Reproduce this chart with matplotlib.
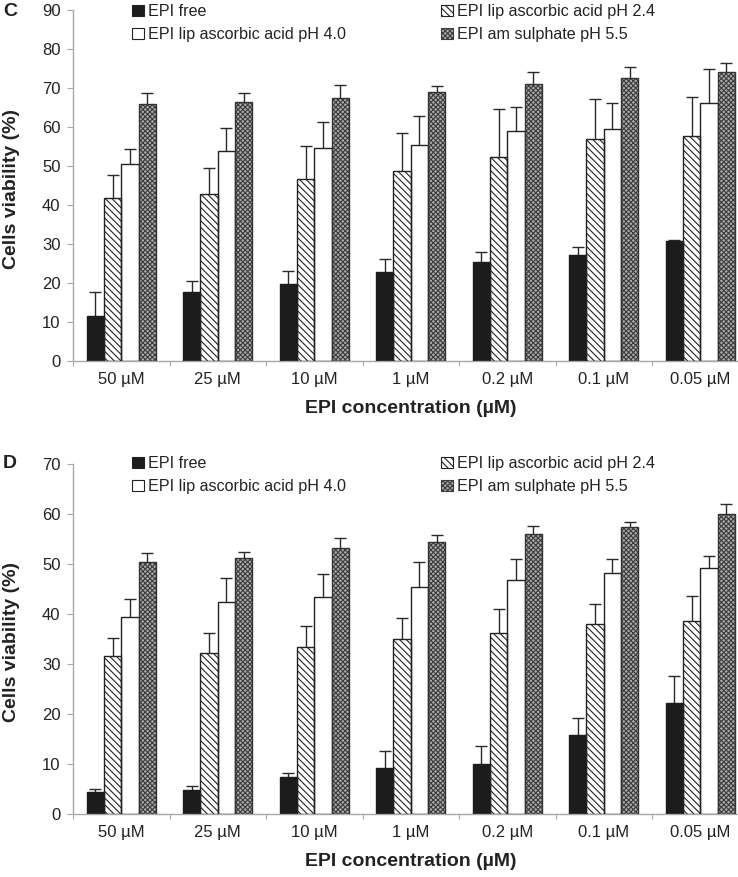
import matplotlib
matplotlib.use("Agg")
import matplotlib.pyplot as plt
import numpy as np
from matplotlib.patches import Patch

plt.rcParams['font.family'] = ['Liberation Sans', 'DejaVu Sans']
plt.rcParams['hatch.linewidth'] = 0.8

categories = ['50 µM', '25 µM', '10 µM', '1 µM', '0.2 µM', '0.1 µM', '0.05 µM']
series_names = ['EPI free', 'EPI lip ascorbic acid pH 2.4',
                'EPI lip ascorbic acid pH 4.0', 'EPI am sulphate pH 5.5']

# Panel C
c_free = [11.6, 17.6, 19.7, 22.9, 25.4, 27.2, 30.8]
c_free_err = [6.1, 3.0, 3.4, 3.3, 2.5, 2.1, 0.3]
c_asc24 = [41.7, 42.7, 46.7, 48.7, 52.4, 56.8, 57.8]
c_asc24_err = [6.1, 6.8, 8.5, 9.7, 12.2, 10.3, 9.8]
c_asc40 = [50.4, 53.8, 54.7, 55.4, 58.9, 59.5, 66.2]
c_asc40_err = [3.9, 5.9, 6.7, 7.5, 6.2, 6.7, 8.7]
c_amsul = [65.8, 66.5, 67.5, 68.9, 71.1, 72.5, 74.1]
c_amsul_err = [2.8, 2.2, 3.3, 1.5, 3.0, 2.8, 2.4]

# Panel D
d_free = [4.4, 4.8, 7.4, 9.2, 9.9, 15.7, 22.1]
d_free_err = [0.6, 0.7, 0.7, 3.4, 3.7, 3.4, 5.5]
d_asc24 = [31.6, 32.2, 33.3, 35.0, 36.1, 38.0, 38.5]
d_asc24_err = [3.5, 3.9, 4.3, 4.1, 4.8, 3.9, 5.0]
d_asc40 = [39.3, 42.3, 43.3, 45.3, 46.7, 48.2, 49.1]
d_asc40_err = [3.6, 4.8, 4.7, 5.1, 4.2, 2.8, 2.4]
d_amsul = [50.3, 51.1, 53.1, 54.3, 56.0, 57.4, 59.9]
d_amsul_err = [1.9, 1.3, 2.0, 1.4, 1.5, 1.0, 2.0]

styles = [
    dict(face='#1c1c1c', hatch=None, hcol='#1c1c1c', edge='#1c1c1c'),
    dict(face='white', hatch='\\\\\\\\\\', hcol='#222222', edge='#222222'),
    dict(face='white', hatch=None, hcol='white', edge='#222222'),
    dict(face='#ababab', hatch='xxxxxxx', hcol='#3c3c3c', edge='#333333'),
]

W = 738
H = 877
fig = plt.figure(figsize=(W / 100, H / 100), dpi=100)

bw = 0.18
offsets = np.array([-1.5, -0.5, 0.5, 1.5]) * bw
x = np.arange(len(categories))

TICK_FS = 12
LABEL_FS = 14


def draw_panel(ax, vals, errs, ymax):
    for k, (v, e) in enumerate(zip(vals, errs)):
        st = styles[k]
        xs = x + offsets[k]
        ax.bar(xs, v, width=bw, color=st['face'], hatch=st['hatch'],
               edgecolor=st['hcol'], linewidth=0, zorder=2)
        ax.bar(xs, v, width=bw, fill=False, edgecolor=st['edge'],
               linewidth=1.0, zorder=3)
        eb = ax.errorbar(xs, v, yerr=[np.zeros(len(v)), e], fmt='none',
                         ecolor='#2a2a2a', elinewidth=1.0, capsize=4.5,
                         capthick=1.0, zorder=1)
        caps = eb[1]
        if len(caps) >= 2:
            caps[0].set_visible(False)
    ax.set_xlim(-0.5, len(categories) - 0.5)
    ax.set_ylim(0, ymax)
    ax.set_yticks(np.arange(0, ymax + 1, 10))
    ax.set_xticks(x)
    ax.set_xticklabels(categories)
    ax.set_xticks(np.arange(-0.5, len(categories) + 0.5, 1), minor=True)
    ax.tick_params(axis='x', which='major', length=0, pad=8, labelsize=TICK_FS,
                   colors='#222222')
    ax.tick_params(axis='x', which='minor', length=3.5, color='#a8a8a8',
                   width=0.8, direction='out')
    ax.tick_params(axis='y', length=4, color='#a8a8a8', width=0.8, pad=5,
                   labelsize=TICK_FS, labelcolor='#222222')
    for s in ['top', 'right']:
        ax.spines[s].set_visible(False)
    for s in ['left', 'bottom']:
        ax.spines[s].set_color('#a8a8a8')
        ax.spines[s].set_linewidth(1.0)
    ax.set_ylabel('Cells viability (%)', fontsize=LABEL_FS, fontweight='bold',
                  color='#222222')
    ax.set_xlabel('EPI concentration (µM)', fontsize=LABEL_FS, fontweight='bold',
                  color='#222222')
    ax.yaxis.set_label_coords(-0.079, 0.49)
    ax.xaxis.set_label_coords(0.5, -0.112)

    handles = []
    for st, name in zip(styles, series_names):
        handles.append(Patch(facecolor=st['face'], hatch=st['hatch'],
                             edgecolor=st['hcol'] if st['hatch'] else '#222222',
                             linewidth=0.8, label=name))
    return handles


axw = (748.5 - 73) / W
axC = fig.add_axes([73 / W, 1 - 361 / H, axw, 351 / H])
axD = fig.add_axes([73 / W, 1 - 813.7 / H, axw, 349.7 / H])

hC = draw_panel(axC, [c_free, c_asc24, c_asc40, c_amsul],
                [c_free_err, c_asc24_err, c_asc40_err, c_amsul_err], 90)
hD = draw_panel(axD, [d_free, d_asc24, d_asc40, d_amsul],
                [d_free_err, d_asc24_err, d_asc40_err, d_amsul_err], 70)


def add_legends(ax, handles, top_px):
    common = dict(frameon=False, fontsize=11.6, handlelength=0.72,
                  handleheight=0.72, handletextpad=0.3, labelspacing=0.5,
                  borderpad=0, borderaxespad=0, loc='upper left',
                  bbox_transform=fig.transFigure, labelcolor='#222222')
    l1 = ax.legend([handles[0], handles[2]], [series_names[0], series_names[2]],
                   bbox_to_anchor=(132 / W, 1 - top_px / H), **common)
    ax.add_artist(l1)
    ax.legend([handles[1], handles[3]], [series_names[1], series_names[3]],
              bbox_to_anchor=(441 / W, 1 - top_px / H), **common)


add_legends(axC, hC, 4)
add_legends(axD, hD, 456)

fig.text(3 / W, 1 - 3 / H, 'C', fontsize=14, fontweight='bold', va='top',
         ha='left', color='#222222')
fig.text(3 / W, 1 - 455 / H, 'D', fontsize=14, fontweight='bold', va='top',
         ha='left', color='#222222')

fig.savefig('out.png', dpi=100)
